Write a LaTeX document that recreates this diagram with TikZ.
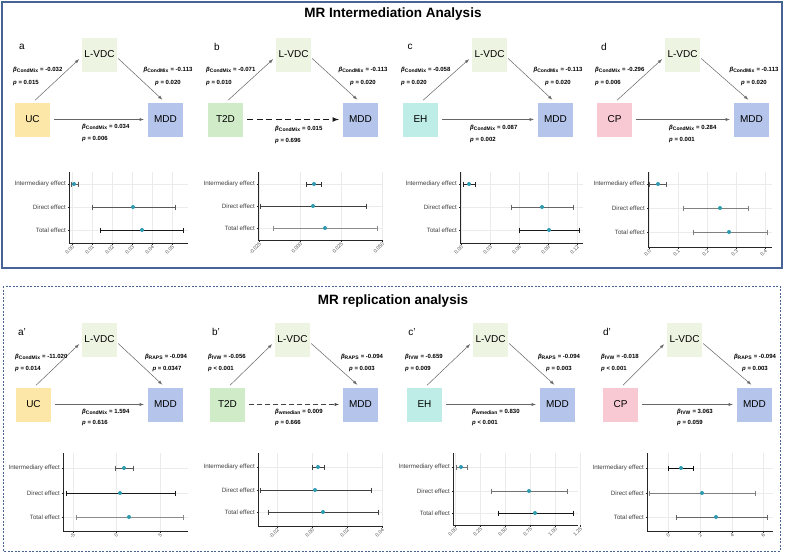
\documentclass[tikz,border=0pt]{standalone}
\usepackage{fontspec}
\setmainfont{Liberation Sans}
\usetikzlibrary{arrows.meta}

\definecolor{framecol}{RGB}{72,100,150}
\definecolor{ucfill}{RGB}{252,231,168}
\definecolor{vdcfill}{RGB}{238,244,226}
\definecolor{mddfill}{RGB}{180,196,234}
\definecolor{t2dfill}{RGB}{208,235,200}
\definecolor{ehfill}{RGB}{190,237,232}
\definecolor{cpfill}{RGB}{248,200,211}
\definecolor{dotcol}{RGB}{46,155,174}

\newcommand{\coefb}[2]{\textit{β}\textsubscript{#1} = #2}
\newcommand{\coefp}[1]{\textit{p} #1}

% error bar: y, low, point, high, colour
\newcommand{\effbar}[5]{%
  \draw[#5, line width=0.6pt] (#2,#1) -- (#4,#1)
    (#2,#1-2.5) -- (#2,#1+2.5) (#4,#1-2.5) -- (#4,#1+2.5);
  \fill[dotcol] (#3,#1) circle[radius=2];}
% x ticks: ytop, ybot, list
\newcommand{\effticks}[3]{%
  \foreach \tx/\tl in {#3} {
    \draw[gridline] (\tx,#1) -- (\tx,#2);
    \draw[axisline] (\tx,#2) -- (\tx,#2+1.5);
    \node[ticklab] at (\tx+1.5,#2+3) {\tl};}}
% axes: x0, ytop, ybot, xright, row1, row2, row3
\newcommand{\effaxes}[7]{%
  \foreach \ry in {#5,#6,#7} \draw[gridline] (#1,\ry) -- (#4,\ry);
  \draw[axisline] (#1,#2) -- (#1,#3) -- (#4,#3);
  \foreach \ry in {#5,#6,#7} \draw[axisline] (#1-1.5,\ry) -- (#1,\ry);
  \node[efflab] at (#1-2,#5) {Intermediary effect};
  \node[efflab] at (#1-2,#6) {Direct effect};
  \node[efflab] at (#1-2,#7) {Total effect};}

\tikzset{
  box/.style={minimum width=35pt, minimum height=34pt, inner sep=0pt,
    font=\fontsize{10}{12}\selectfont},
  letter/.style={font=\fontsize{10}{12}\selectfont, inner sep=0pt},
  coef/.style={font=\fontsize{6}{7}\selectfont\bfseries, inner sep=0pt},
  link/.style={->, draw=black!60, line width=0.5pt, shorten >=1pt},
  gridline/.style={draw=black!8, line width=0.4pt},
  axisline/.style={draw=black!85, line width=0.7pt},
  efflab/.style={anchor=east, font=\fontsize{6.2}{7}\selectfont, text=black!75, inner sep=1pt},
  ticklab/.style={rotate=45, anchor=east, font=\fontsize{5}{6}\selectfont, text=black!70, inner sep=0.3pt},
}

\begin{document}
\begin{tikzpicture}[x=1pt, y=-1pt, >=latex]
  \fill[white] (0,0) rectangle (785,554);
  \useasboundingbox (0,0) rectangle (785,554);

  % ==== FRAMES ====
  \draw[framecol, line width=1.2pt] (2,2) rectangle (782,268);
  \draw[framecol, line width=1pt, dash pattern=on 2pt off 1.5pt] (3,286) rectangle (780,551);
  \node[font=\fontsize{13.5}{15}\selectfont\bfseries] (title1) at (393,14) {MR Intermediation Analysis};
  \node[font=\fontsize{13.5}{15}\selectfont\bfseries] (title2) at (393,301) {MR replication analysis};

  % ==== PANEL a ====
  \begin{scope}[shift={(15,0)}]
    \node[letter] (a-lab) at (7,47) {a};
    \node[box, fill=ucfill] (a-src) at (17.5,119.5) {UC};
    \node[box, fill=vdcfill] (a-med) at (84.5,54.5) {L-VDC};
    \node[box, fill=mddfill] (a-out) at (150.5,119.5) {MDD};
    \draw[link] ([xshift=2.5pt,yshift=2pt]a-src.north) -- ([xshift=-2pt,yshift=-4pt]a-med.west);
    \draw[link] ([xshift=1pt,yshift=-4pt]a-med.east) -- ([xshift=-2.5pt,yshift=2pt]a-out.north);
    \draw[link] ([xshift=4pt]a-src.east) -- ([xshift=-3pt]a-out.west);
    \node[coef, anchor=west] (a-l1) at (-2,70) {\coefb{CondMix}{-0.032}};
    \node[coef, anchor=west] (a-l2) at (-2,83) {\coefp{= 0.015}};
    \node[coef] (a-r1) at (153,70) {\coefb{CondMix}{-0.113}};
    \node[coef] (a-r2) at (153,83) {\coefp{= 0.020}};
    \node[coef, anchor=west] (a-b1) at (67,127) {\coefb{CondMix}{0.034}};
    \node[coef, anchor=west] (a-b2) at (67,139) {\coefp{= 0.006}};
  \end{scope}

  % ==== PANEL b ====
  \begin{scope}[shift={(208,0)}]
    \node[letter] (b-lab) at (9,47) {b};
    \node[box, fill=t2dfill] (b-src) at (17.5,119.5) {T2D};
    \node[box, fill=vdcfill] (b-med) at (85.5,54.5) {L-VDC};
    \node[box, fill=mddfill] (b-out) at (152.5,119.5) {MDD};
    \draw[link] ([xshift=2.5pt,yshift=2pt]b-src.north) -- ([xshift=-2pt,yshift=-4pt]b-med.west);
    \draw[link] ([xshift=1pt,yshift=-4pt]b-med.east) -- ([xshift=-2.5pt,yshift=2pt]b-out.north);
    \draw[link, draw=black!90, line width=1.1pt, dash pattern=on 6pt off 3.5pt] ([xshift=4pt]b-src.east) -- ([xshift=-3pt]b-out.west);
    \node[coef, anchor=west] (b-l1) at (-2,70) {\coefb{CondMix}{-0.071}};
    \node[coef, anchor=west] (b-l2) at (-2,83) {\coefp{= 0.010}};
    \node[coef] (b-r1) at (155,70) {\coefb{CondMix}{-0.113}};
    \node[coef] (b-r2) at (155,83) {\coefp{= 0.020}};
    \node[coef, anchor=west] (b-b1) at (67,129) {\coefb{CondMix}{0.015}};
    \node[coef, anchor=west] (b-b2) at (67,141) {\coefp{= 0.696}};
  \end{scope}

  % ==== PANEL c ====
  \begin{scope}[shift={(403,0)}]
    \node[letter] (c-lab) at (7,47) {c};
    \node[box, fill=ehfill] (c-src) at (17.5,119.5) {EH};
    \node[box, fill=vdcfill] (c-med) at (86.5,54.5) {L-VDC};
    \node[box, fill=mddfill] (c-out) at (152.5,119.5) {MDD};
    \draw[link] ([xshift=2.5pt,yshift=2pt]c-src.north) -- ([xshift=-2pt,yshift=-4pt]c-med.west);
    \draw[link] ([xshift=1pt,yshift=-4pt]c-med.east) -- ([xshift=-2.5pt,yshift=2pt]c-out.north);
    \draw[link] ([xshift=4pt]c-src.east) -- ([xshift=-3pt]c-out.west);
    \node[coef, anchor=west] (c-l1) at (-2,70) {\coefb{CondMix}{-0.058}};
    \node[coef, anchor=west] (c-l2) at (-2,83) {\coefp{= 0.020}};
    \node[coef] (c-r1) at (155,70) {\coefb{CondMix}{-0.113}};
    \node[coef] (c-r2) at (155,83) {\coefp{= 0.020}};
    \node[coef, anchor=west] (c-b1) at (67,128) {\coefb{CondMix}{0.087}};
    \node[coef, anchor=west] (c-b2) at (67,140) {\coefp{= 0.002}};
  \end{scope}

  % ==== PANEL d ====
  \begin{scope}[shift={(597,0)}]
    \node[letter] (d-lab) at (7,47) {d};
    \node[box, fill=cpfill] (d-src) at (17.5,119.5) {CP};
    \node[box, fill=vdcfill] (d-med) at (85.5,54.5) {L-VDC};
    \node[box, fill=mddfill] (d-out) at (154.5,119.5) {MDD};
    \draw[link] ([xshift=2.5pt,yshift=2pt]d-src.north) -- ([xshift=-2pt,yshift=-4pt]d-med.west);
    \draw[link] ([xshift=1pt,yshift=-4pt]d-med.east) -- ([xshift=-2.5pt,yshift=2pt]d-out.north);
    \draw[link] ([xshift=4pt]d-src.east) -- ([xshift=-3pt]d-out.west);
    \node[coef, anchor=west] (d-l1) at (-2,70) {\coefb{CondMix}{-0.296}};
    \node[coef, anchor=west] (d-l2) at (-2,83) {\coefp{= 0.006}};
    \node[coef] (d-r1) at (157,70) {\coefb{CondMix}{-0.113}};
    \node[coef] (d-r2) at (157,83) {\coefp{= 0.020}};
    \node[coef, anchor=west] (d-b1) at (72,128) {\coefb{CondMix}{0.284}};
    \node[coef, anchor=west] (d-b2) at (72,140) {\coefp{= 0.001}};
  \end{scope}

  % ==== PANEL a' ====
  \begin{scope}[shift={(17,285)}]
    \node[letter] (a2-lab) at (5,47) {a’};
    \node[box, fill=ucfill] (a2-src) at (16.5,119.5) {UC};
    \node[box, fill=vdcfill] (a2-med) at (82.5,54.5) {L-VDC};
    \node[box, fill=mddfill] (a2-out) at (148.5,119.5) {MDD};
    \draw[link] ([xshift=2.5pt,yshift=2pt]a2-src.north) -- ([xshift=-2pt,yshift=-4pt]a2-med.west);
    \draw[link] ([xshift=1pt,yshift=-4pt]a2-med.east) -- ([xshift=-2.5pt,yshift=2pt]a2-out.north);
    \draw[link] ([xshift=4pt]a2-src.east) -- ([xshift=-3pt]a2-out.west);
    \node[coef, anchor=west] (a2-l1) at (-2,72) {\coefb{CondMix}{-11.020}};
    \node[coef, anchor=west] (a2-l2) at (-2,84) {\coefp{= 0.014}};
    \node[coef] (a2-r1) at (149,72) {\coefb{RAPS}{-0.094}};
    \node[coef] (a2-r2) at (150,84) {\coefp{= 0.0347}};
    \node[coef, anchor=west] (a2-b1) at (65,127) {\coefb{CondMix}{1.594}};
    \node[coef, anchor=west] (a2-b2) at (65,138) {\coefp{= 0.616}};
  \end{scope}

  % ==== PANEL b' ====
  \begin{scope}[shift={(210,285)}]
    \node[letter] (b2-lab) at (6,47) {b’};
    \node[box, fill=t2dfill] (b2-src) at (17.5,119.5) {T2D};
    \node[box, fill=vdcfill] (b2-med) at (82.5,54.5) {L-VDC};
    \node[box, fill=mddfill] (b2-out) at (150.5,119.5) {MDD};
    \draw[link] ([xshift=2.5pt,yshift=2pt]b2-src.north) -- ([xshift=-2pt,yshift=-4pt]b2-med.west);
    \draw[link] ([xshift=1pt,yshift=-4pt]b2-med.east) -- ([xshift=-2.5pt,yshift=2pt]b2-out.north);
    \draw[link, draw=black!75, dash pattern=on 5pt off 3pt] ([xshift=4pt]b2-src.east) -- ([xshift=-3pt]b2-out.west);
    \node[coef, anchor=west] (b2-l1) at (-2,72) {\coefb{IVW}{-0.056}};
    \node[coef, anchor=west] (b2-l2) at (-2,84) {\coefp{< 0.001}};
    \node[coef] (b2-r1) at (152,72) {\coefb{RAPS}{-0.094}};
    \node[coef] (b2-r2) at (152,84) {\coefp{= 0.003}};
    \node[coef, anchor=west] (b2-b1) at (65,127) {\coefb{wmedian}{0.009}};
    \node[coef, anchor=west] (b2-b2) at (65,138) {\coefp{= 0.666}};
  \end{scope}

  % ==== PANEL c' ====
  \begin{scope}[shift={(407,285)}]
    \node[letter] (c2-lab) at (5,47) {c’};
    \node[box, fill=ehfill] (c2-src) at (17.5,119.5) {EH};
    \node[box, fill=vdcfill] (c2-med) at (83.5,54.5) {L-VDC};
    \node[box, fill=mddfill] (c2-out) at (150.5,119.5) {MDD};
    \draw[link] ([xshift=2.5pt,yshift=2pt]c2-src.north) -- ([xshift=-2pt,yshift=-4pt]c2-med.west);
    \draw[link] ([xshift=1pt,yshift=-4pt]c2-med.east) -- ([xshift=-2.5pt,yshift=2pt]c2-out.north);
    \draw[link] ([xshift=4pt]c2-src.east) -- ([xshift=-3pt]c2-out.west);
    \node[coef, anchor=west] (c2-l1) at (-2,72) {\coefb{IVW}{-0.659}};
    \node[coef, anchor=west] (c2-l2) at (-2,84) {\coefp{= 0.009}};
    \node[coef] (c2-r1) at (152,72) {\coefb{RAPS}{-0.094}};
    \node[coef] (c2-r2) at (152,84) {\coefp{= 0.003}};
    \node[coef, anchor=west] (c2-b1) at (65,127) {\coefb{wmedian}{0.830}};
    \node[coef, anchor=west] (c2-b2) at (65,138) {\coefp{< 0.001}};
  \end{scope}

  % ==== PANEL d' ====
  \begin{scope}[shift={(603,285)}]
    \node[letter] (d2-lab) at (4,47) {d’};
    \node[box, fill=cpfill] (d2-src) at (17.5,119.5) {CP};
    \node[box, fill=vdcfill] (d2-med) at (81.5,54.5) {L-VDC};
    \node[box, fill=mddfill] (d2-out) at (151.5,119.5) {MDD};
    \draw[link] ([xshift=2.5pt,yshift=2pt]d2-src.north) -- ([xshift=-2pt,yshift=-4pt]d2-med.west);
    \draw[link] ([xshift=1pt,yshift=-4pt]d2-med.east) -- ([xshift=-2.5pt,yshift=2pt]d2-out.north);
    \draw[link] ([xshift=4pt]d2-src.east) -- ([xshift=-3pt]d2-out.west);
    \node[coef, anchor=west] (d2-l1) at (-2,72) {\coefb{IVW}{-0.018}};
    \node[coef, anchor=west] (d2-l2) at (-2,84) {\coefp{< 0.001}};
    \node[coef] (d2-r1) at (152,72) {\coefb{RAPS}{-0.094}};
    \node[coef] (d2-r2) at (152,84) {\coefp{= 0.003}};
    \node[coef, anchor=west] (d2-b1) at (74,127) {\coefb{IVW}{3.063}};
    \node[coef, anchor=west] (d2-b2) at (74,138) {\coefp{= 0.059}};
  \end{scope}

  % ==== FOREST PLOTS, top ====
  \effticks{172}{243}{72/0.00, 92/0.01, 112/0.02, 132/0.03, 152/0.04, 172/0.05}
  \effaxes{69}{172}{243}{188}{184}{207}{230}
  \effbar{184}{71}{74}{78}{black!65}
  \effbar{207}{92}{133}{175}{black!65}
  \effbar{230}{100}{142}{183}{black!90}

  \effticks{172}{240}{259/-0.025, 300/0.000, 341/0.025, 382/0.050}
  \effaxes{258}{172}{240}{383}{184}{206}{228}
  \effbar{184}{306}{314}{321}{black!80}
  \effbar{206}{260}{313}{366}{black!75}
  \effbar{228}{273}{325}{377}{black!45}

  \effticks{172}{243}{461/0.00, 490/0.03, 519/0.06, 548/0.09, 577/0.12}
  \effaxes{460}{172}{243}{583}{184}{207}{230}
  \effbar{184}{463}{469}{475}{black!85}
  \effbar{207}{511}{542}{573}{black!60}
  \effbar{230}{519}{549}{579}{black!90}

  \effticks{172}{247}{649/0.0, 678/0.1, 707/0.2, 736/0.3, 765/0.4}
  \effaxes{648}{172}{247}{772}{184}{208}{232}
  \effbar{184}{649}{658}{666}{black!65}
  \effbar{208}{683}{720}{748}{black!50}
  \effbar{232}{693}{729}{767}{black!50}

  % ==== FOREST PLOTS, bottom ====
  \effticks{453}{531}{73/-5, 116/0, 160/5}
  \effaxes{63}{453}{531}{188}{468}{493}{517}
  \effbar{468}{115}{124}{133}{black!65}
  \effbar{493}{66}{120}{175}{black!90}
  \effbar{517}{76}{129}{183}{black!45}

  \effticks{453}{526}{277/-0.02, 312/0.00, 347/0.02, 382/0.04}
  \effaxes{258}{453}{526}{383}{467}{490}{512}
  \effbar{467}{312}{318}{324}{black!75}
  \effbar{490}{260}{315}{371}{black!75}
  \effbar{512}{268}{323}{378}{black!75}

  \effticks{453}{525}{455/0.00, 480/0.25, 505/0.50, 530/0.75, 555/1.00, 580/1.25}
  \effaxes{453}{453}{525}{578}{467}{491}{513}
  \effbar{467}{456}{461}{467}{black!55}
  \effbar{491}{491}{529}{567}{black!55}
  \effbar{513}{498}{535}{573}{black!90}

  \effticks{453}{531}{668/0, 700/2, 732/4, 763/6}
  \effaxes{647}{453}{531}{773}{468}{493}{517}
  \effbar{468}{668}{681}{693}{black!95}
  \effbar{493}{649}{702}{755}{black!50}
  \effbar{517}{676}{716}{767}{black!60}
\end{tikzpicture}
\end{document}
